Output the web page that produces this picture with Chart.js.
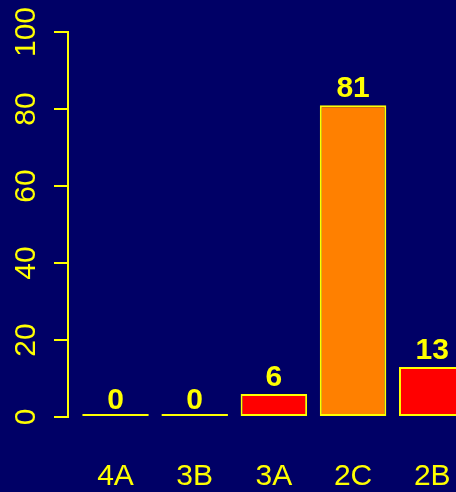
<!DOCTYPE html>
<html>
<head>
<meta charset="utf-8">
<script src="https://cdn.jsdelivr.net/npm/chart.js@4"></script>
<style>
  html, body { margin: 0; padding: 0; background: #000066; overflow: hidden; }
  #wrap { width: 456px; height: 492px; position: relative; }
</style>
</head>
<body>
<div id="wrap"><canvas id="bars"></canvas></div>
<script>
const categories = ['4A', '3B', '3A', '2C', '2B'];
const values = [0, 0, 6, 81, 13];
const barColors = ['#ff0000', '#ff0000', '#ff0000', '#ff8000', '#ff0000'];
const yTicks = [0, 20, 40, 60, 80, 100];

const yellow = '#ffff00';
const axisFont = { family: 'Liberation Sans', size: 30 };

// value labels above each bar
const valueLabels = {
    id: 'valueLabels',
    afterDatasetsDraw(chart) {
        const c = chart.ctx;
        const meta = chart.getDatasetMeta(0);
        const y0 = chart.scales.y.getPixelForValue(0);
        c.save();
        c.fillStyle = yellow;
        c.font = 'bold 30px "Liberation Sans"';
        c.textAlign = 'center';
        c.textBaseline = 'alphabetic';
        meta.data.forEach((bar, i) => {
            const top = chart.scales.y.getPixelForValue(values[i]);
            c.fillText(String(values[i]), bar.x, Math.min(top, y0) - 8);
        });
        c.restore();
    }
};

const ctx = document.getElementById('bars').getContext('2d');
var myChart = new Chart(ctx, {
    type: 'bar',
    data: {
        datasets: [{
            data: values.map((v, i) => ({ x: i, y: v })),
            backgroundColor: barColors,
            borderColor: yellow,
            borderWidth: 2,
            borderSkipped: false,
            minBarLength: 3,
            barPercentage: 1,
            categoryPercentage: 0.84
        }]
    },
    options: {
        responsive: true,
        maintainAspectRatio: false,
        animation: false,
        layout: { padding: { top: 32, right: 0, bottom: 0, left: 0 } },
        plugins: { legend: { display: false }, tooltip: { enabled: false } },
        scales: {
            x: {
                type: 'linear',
                min: -0.6,
                max: 4.3,
                offset: false,
                grid: { display: false, drawTicks: false, offset: false },
                border: { display: false },
                afterFit(scale) {
                    scale.height = 75;
                    scale.paddingLeft = 0;
                    scale.paddingRight = 0;
                },
                ticks: {
                    stepSize: 1,
                    includeBounds: false,
                    autoSkip: false,
                    maxRotation: 0,
                    padding: 42,
                    color: yellow,
                    font: axisFont,
                    callback: (v) => Number.isInteger(v) && categories[v] !== undefined ? categories[v] : ''
                }
            },
            y: {
                min: 0,
                max: 100,
                afterFit(scale) { scale.width = 68; },
                afterBuildTicks(scale) { scale.ticks = yTicks.map(v => ({ value: v })); },
                grid: { drawOnChartArea: false, drawTicks: true, tickLength: 14, color: yellow, lineWidth: 2 },
                border: { display: true, color: yellow, width: 2 },
                ticks: {
                    minRotation: 90,
                    maxRotation: 90,
                    crossAlign: 'center',
                    padding: 2,
                    color: yellow,
                    font: axisFont
                }
            }
        }
    },
    plugins: [valueLabels]
});
</script>
</body>
</html>
